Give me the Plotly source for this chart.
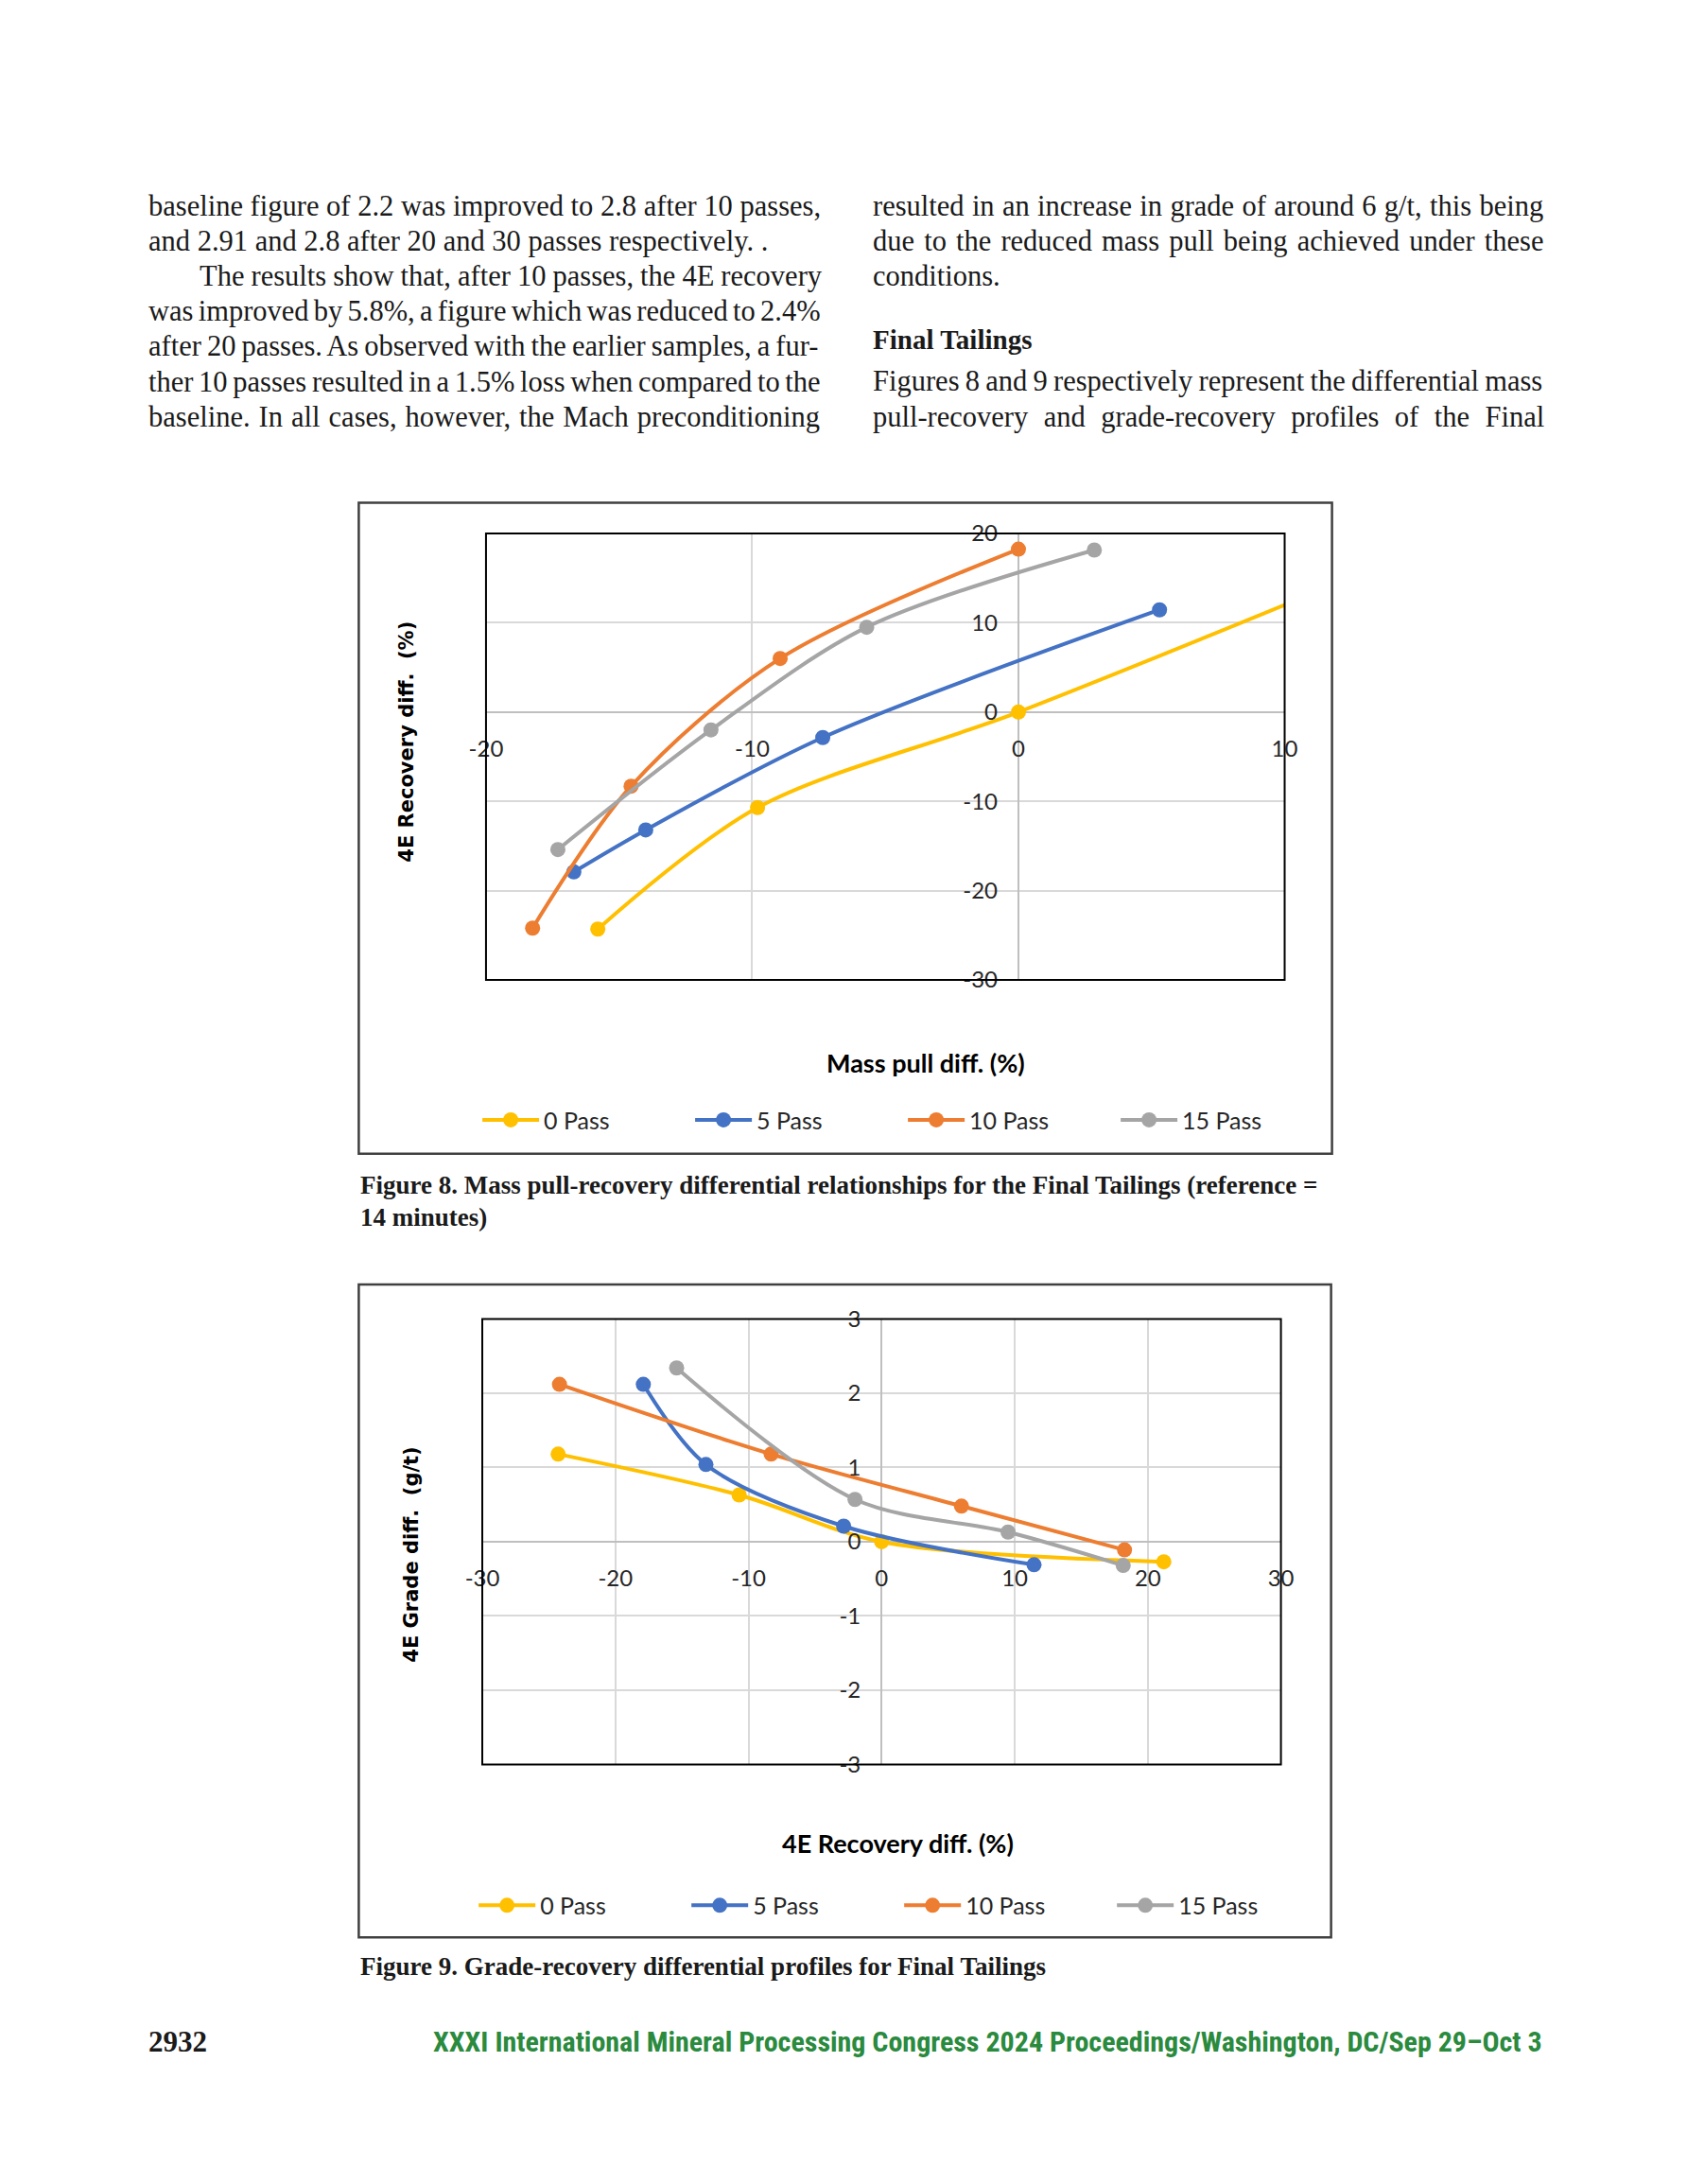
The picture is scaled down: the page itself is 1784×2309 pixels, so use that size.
import plotly.graph_objects as go

W, H = 1784, 2309

# ---------------- data ----------------
series_names = ["0 Pass", "5 Pass", "10 Pass", "15 Pass"]
series_colors = ["#FFC000", "#4472C4", "#ED7D31", "#A5A5A5"]

# Figure 8: mass pull diff (%) vs 4E recovery diff (%)
mass_pull_0 = [-15.8, -9.8, 0.0, 17.5]
mass_pull_5 = [-16.7, -14.0, -7.35, 5.3]
mass_pull_10 = [-18.25, -14.55, -8.95, 0.0]
mass_pull_15 = [-17.3, -11.55, -5.7, 2.85]

recovery_0 = [-24.3, -10.7, 0.0, 21.2]
recovery_5 = [-17.9, -13.2, -2.85, 11.45]
recovery_10 = [-24.2, -8.3, 6.0, 18.25]
recovery_15 = [-15.4, -2.0, 9.5, 18.15]

# Figure 9: 4E grade diff (g/t)
grade_0 = [1.18, 0.63, 0.0, -0.27]
grade_5 = [2.12, 1.04, 0.21, -0.31]
grade_10 = [2.12, 1.18, 0.48, -0.11]
grade_15 = [2.34, 0.57, 0.13, -0.32]

mass_pull = [mass_pull_0, mass_pull_5, mass_pull_10, mass_pull_15]
recovery = [recovery_0, recovery_5, recovery_10, recovery_15]
grade = [grade_0, grade_5, grade_10, grade_15]

fig8_x_range = [-20, 10]
fig8_y_range = [-30, 20]
fig9_x_range = [-30, 30]
fig9_y_range = [-3, 3]

fig8_x_ticks = [-20, -10, 0, 10]
fig8_x_labels = ["-20", "-10", "0", "10"]
fig8_y_ticks = [-30, -20, -10, 0, 10, 20]
fig8_y_labels = ["-30", "-20", "-10", "0", "10", "20"]
fig9_x_ticks = [-30, -20, -10, 0, 10, 20, 30]
fig9_x_labels = ["-30", "-20", "-10", "0", "10", "20", "30"]
fig9_y_ticks = [-3, -2, -1, 0, 1, 2, 3]
fig9_y_labels = ["-3", "-2", "-1", "0", "1", "2", "3"]

left_col_lines = [
    "baseline figure of 2.2 was improved to 2.8 after 10 passes,",
    "and 2.91 and 2.8 after 20 and 30 passes respectively. .",
    "The results show that, after 10 passes, the 4E recovery",
    "was improved by 5.8%, a figure which was reduced to 2.4%",
    "after 20 passes. As observed with the earlier samples, a fur-",
    "ther 10 passes resulted in a 1.5% loss when compared to the",
    "baseline. In all cases, however, the Mach preconditioning",
]
left_col_justified = [True, False, True, True, True, True, True]
right_col_lines_top = [
    "resulted in an increase in grade of around 6 g/t, this being",
    "due to the reduced mass pull being achieved under these",
    "conditions.",
]
right_col_top_justified = [True, True, False]
right_heading = "Final Tailings"
right_col_lines_bottom = [
    "Figures 8 and 9 respectively represent the differential mass",
    "pull-recovery and grade-recovery profiles of the Final",
]
caption8 = ["Figure 8. Mass pull-recovery differential relationships for the Final Tailings (reference =",
            "14 minutes)"]
caption9 = "Figure 9. Grade-recovery differential profiles for Final Tailings"
footer_page = "2932"
footer_text = "XXXI International Mineral Processing Congress 2024 Proceedings/Washington, DC/Sep 29–Oct 3"


# ---------------- helpers ----------------
def fx(px):
    return px / W


def fy(py):
    return 1 - py / H


# approximate Times/Liberation Serif advance widths (1/1000 em) for justification
_W = {' ': 250, ',': 250, '.': 250, '%': 833, '-': 333, '/': 278, '(': 333, ')': 333,
      ':': 278, ';': 278, '=': 564}
for _c, _v in zip("abcdefghijklmnopqrstuvwxyz",
                  [444, 500, 444, 500, 444, 333, 500, 500, 278, 278, 500, 278, 778, 500, 500, 500,
                   500, 333, 389, 278, 500, 500, 722, 500, 500, 444]):
    _W[_c] = _v
for _c, _v in zip("ABCDEFGHIJKLMNOPQRSTUVWXYZ",
                  [722, 667, 667, 722, 611, 556, 722, 722, 333, 389, 722, 611, 889, 722, 722, 556,
                   722, 667, 556, 611, 722, 722, 944, 722, 722, 611]):
    _W[_c] = _v
for _c in "0123456789":
    _W[_c] = 500


def natural_width(txt, size):
    return 1.021 * sum(_W.get(c, 500) for c in txt) * size / 1000.0


SANS = "Lato, Carlito, Open Sans, sans-serif"
SERIF = "Liberation Serif, DejaVu Serif, serif"
TICK_FONT = dict(family=SANS, size=24, color="#262626")

fig = go.Figure()

for i, name in enumerate(series_names):
    fig.add_trace(go.Scatter(
        x=mass_pull[i], y=recovery[i], name=name, mode="lines+markers",
        line=dict(color=series_colors[i], width=4, shape="spline", smoothing=0.9),
        marker=dict(color=series_colors[i], size=16),
        xaxis="x", yaxis="y", legend="legend",
    ))
for i, name in enumerate(series_names):
    fig.add_trace(go.Scatter(
        x=recovery[i], y=grade[i], name=name, mode="lines+markers",
        line=dict(color=series_colors[i], width=4, shape="spline", smoothing=0.9),
        marker=dict(color=series_colors[i], size=16),
        xaxis="x2", yaxis="y2", legend="legend2",
    ))

# plot-area pixel boxes
P8 = dict(l=505, r=1365, t=555, b=1033)
P9 = dict(l=501, r=1361, t=1396, b=1873)


def zero_pos(rng, lo_px, hi_px, invert=False):
    frac = (0 - rng[0]) / (rng[1] - rng[0])
    if invert:
        return hi_px - frac * (hi_px - lo_px)
    return lo_px + frac * (hi_px - lo_px)


y0_8 = zero_pos(fig8_y_range, P8["t"], P8["b"], invert=True)
x0_8 = zero_pos(fig8_x_range, P8["l"], P8["r"])
y0_9 = zero_pos(fig9_y_range, P9["t"], P9["b"], invert=True)
x0_9 = zero_pos(fig9_x_range, P9["l"], P9["r"])

axis_common = dict(
    showgrid=True, gridcolor="#d9d9d9", gridwidth=1.5,
    zeroline=True, zerolinecolor="#bfbfbf", zerolinewidth=2,
    showline=False, ticks="", tickfont=TICK_FONT, fixedrange=True,
    tickmode="array",
)

fig.update_layout(
    width=W, height=H, margin=dict(l=0, r=0, t=0, b=0),
    paper_bgcolor="white", plot_bgcolor="white",
    xaxis=dict(domain=[fx(P8["l"]), fx(P8["r"])], range=fig8_x_range,
               tickvals=fig8_x_ticks, ticktext=fig8_x_labels,
               anchor="free", position=fy(y0_8), ticklabelstandoff=22, **axis_common),
    yaxis=dict(domain=[fy(P8["b"]), fy(P8["t"])], range=fig8_y_range,
               tickvals=fig8_y_ticks, ticktext=fig8_y_labels,
               anchor="free", position=fx(x0_8), ticklabelstandoff=22, **axis_common),
    xaxis2=dict(domain=[fx(P9["l"]), fx(P9["r"])], range=fig9_x_range,
                tickvals=fig9_x_ticks, ticktext=fig9_x_labels,
                anchor="free", position=fy(y0_9), ticklabelstandoff=22, **axis_common),
    yaxis2=dict(domain=[fy(P9["b"]), fy(P9["t"])], range=fig9_y_range,
                tickvals=fig9_y_ticks, ticktext=fig9_y_labels,
                anchor="free", position=fx(x0_9), ticklabelstandoff=22, **axis_common),
    legend=dict(orientation="h", x=fx(496), xanchor="left", y=fy(1183), yanchor="middle",
                font=dict(family=SANS, size=25, color="#262626"), itemwidth=60,
                entrywidth=150, entrywidthmode="pixels", bgcolor="rgba(0,0,0,0)",
                itemclick=False, itemdoubleclick=False),
    legend2=dict(orientation="h", x=fx(492), xanchor="left", y=fy(2024), yanchor="middle",
                 font=dict(family=SANS, size=25, color="#262626"), itemwidth=60,
                 entrywidth=150, entrywidthmode="pixels", bgcolor="rgba(0,0,0,0)",
                 itemclick=False, itemdoubleclick=False),
    showlegend=True,
)

# frames and plot borders
shapes = [
    dict(type="rect", xref="paper", yref="paper", x0=fx(368), x1=fx(1416), y0=fy(1219), y1=fy(522),
         line=dict(color="#404040", width=2.5), layer="below"),
    dict(type="rect", xref="paper", yref="paper", x0=fx(368), x1=fx(1415), y0=fy(2058), y1=fy(1359),
         line=dict(color="#404040", width=2.5), layer="below"),
    dict(type="rect", xref="x domain", yref="y domain", x0=0, x1=1, y0=0, y1=1,
         line=dict(color="black", width=2)),
    dict(type="rect", xref="x2 domain", yref="y2 domain", x0=0, x1=1, y0=0, y1=1,
         line=dict(color="black", width=2)),
]
fig.update_layout(shapes=shapes)

ann = []
BODY = 30.5


def text_line(txt, x, baseline, size=BODY, bold=False, family=SERIF, color="#1a1a1a",
              anchor="left", justify_to=None):
    t = txt
    if justify_to is not None:
        n_sp = txt.count(" ")
        if n_sp:
            ws = (justify_to - x - natural_width(txt, size)) / n_sp
            t = f'<span style="word-spacing:{ws:.2f}px">{txt}</span>'
    if bold:
        t = f"<b>{t}</b>"
    ann.append(dict(text=t, x=fx(x), y=fy(baseline - 0.33 * size), xref="paper", yref="paper",
                    xanchor=anchor, yanchor="middle", showarrow=False,
                    font=dict(family=family, size=size, color=color)))


LEFT_X, LEFT_END = 140, 866
RIGHT_X, RIGHT_END = 920, 1644
baselines = [215, 252.5, 290, 327.5, 365, 402.5, 440]
for i, line in enumerate(left_col_lines):
    x = 194 if i == 2 else LEFT_X
    text_line(line, x, baselines[i], justify_to=LEFT_END if left_col_justified[i] else None)
for i, line in enumerate(right_col_lines_top):
    text_line(line, RIGHT_X, baselines[i], justify_to=RIGHT_END if right_col_top_justified[i] else None)
text_line(right_heading, RIGHT_X, 357, size=29, bold=True)
text_line(right_col_lines_bottom[0], RIGHT_X, 402, justify_to=RIGHT_END)
text_line(right_col_lines_bottom[1], RIGHT_X, 440, justify_to=RIGHT_END)

# captions
text_line(caption8[0], 368, 1262, size=27, bold=True)
text_line(caption8[1], 368, 1296, size=27, bold=True)
text_line(caption9, 368, 2098, size=27, bold=True)

# footer
text_line(footer_page, 140, 2180, size=31, bold=True)
text_line(footer_text, 1644, 2180, size=30, bold=True,
          family="Liberation Sans Narrow, Roboto Condensed, Roboto, sans-serif",
          color="#2a8a3e", anchor="right")

# axis titles
ann.append(dict(text="<b>Mass pull diff. (%)</b>", x=fx(979), y=fy(1122), xref="paper", yref="paper",
                showarrow=False, xanchor="center", yanchor="middle",
                font=dict(family=SANS, size=27, color="black")))
ann.append(dict(text="<b>4E Recovery diff.\u00a0 (%)</b>", x=fx(420), y=fy(778), xref="paper", yref="paper",
                showarrow=False, xanchor="center", yanchor="middle", textangle=-90,
                font=dict(family="DejaVu Sans", size=21, color="black")))
ann.append(dict(text="<b>4E Recovery diff. (%)</b>", x=fx(949), y=fy(1957), xref="paper", yref="paper",
                showarrow=False, xanchor="center", yanchor="middle",
                font=dict(family=SANS, size=27, color="black")))
ann.append(dict(text="<b>4E Grade diff.\u00a0 (g/t)</b>", x=fx(425), y=fy(1648), xref="paper", yref="paper",
                showarrow=False, xanchor="center", yanchor="middle", textangle=-90,
                font=dict(family="DejaVu Sans", size=21, color="black")))

fig.update_layout(annotations=ann)

fig.write_html("out.html", config={"displayModeBar": False},
               post_script="document.body.style.margin='0';document.body.style.padding='0';")
